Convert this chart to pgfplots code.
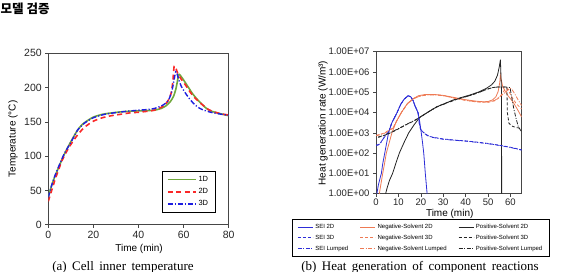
\documentclass[border=0pt]{standalone}
\usepackage{fontspec}
\setmainfont{Liberation Sans}
\newfontfamily\capfont{Liberation Serif}
\newfontfamily\krfont{Noto Sans CJK KR}
\usepackage{pgfplots}
\pgfplotsset{compat=1.18}

\definecolor{tgreen}{RGB}{112,168,60}
\definecolor{tred}{RGB}{250,40,40}
\definecolor{tblue}{RGB}{30,30,225}
\definecolor{seiblue}{RGB}{45,45,215}
\definecolor{negorange}{RGB}{238,122,84}
\definecolor{posblack}{RGB}{35,35,35}
\definecolor{frame}{RGB}{70,70,70}

\pgfplotsset{
  /pgf/number format/assume math mode=true,
  panel/.style={
    scale only axis,
    axis line style={frame, line width=0.8pt},
    tick align=outside,
    tick pos=left,
    major tick length=3pt,
    tick style={frame, line width=0.6pt},
  },
  % short straight legend samples of a given length
  seglegend/.style={legend image code/.code={\draw[##1] (0pt,0pt) -- (#1,0pt);}},
}

\begin{document}
\begin{tikzpicture}
\useasboundingbox (0,0) rectangle (565pt,272pt);

% section heading
\node[anchor=west, inner sep=0pt] at (0.5pt,263pt)
  {\krfont\bfseries\fontsize{12.5}{14}\selectfont 모델 검증};

% ---------- (a) cell inner temperature ----------
\begin{axis}[panel,
  at={(48.3pt,47.3pt)}, anchor=south west,
  width=180.4pt, height=171.4pt,
  xmin=0, xmax=80, ymin=0, ymax=250,
  xtick={0,20,40,60,80}, ytick={0,50,100,150,200,250},
  ticklabel style={font=\fontsize{10.5}{12}\selectfont, text=black!85},
  xlabel={Time (min)}, ylabel={Temperature (\textdegree C)},
  label style={font=\fontsize{10.5}{12}\selectfont, text=black!85},
  every axis x label/.style={at={(axis description cs:0.503,-0.142)}, anchor=center},
  every axis y label/.style={at={(axis description cs:-0.196,0.5)}, rotate=90, anchor=center},
  legend style={at={(axis description cs:0.629,0.07)}, anchor=south west,
    fill=white, font=\fontsize{7.5}{9}\selectfont,
    inner xsep=5pt, inner ysep=3pt, row sep=1.6pt,
    /tikz/every even column/.append style={column sep=3pt}},
  legend cell align=left,
  every axis plot post/.append style={seglegend=28pt},
]
\addplot[tgreen, line width=1.6pt, smooth, tension=0.4] coordinates {
 (0,40) (1,52) (2,62) (3,71) (4,79) (5,87) (7,102) (9,115) (11,127) (13,138)
 (15,146) (17,151) (20,157) (24,161) (28,163) (32,164.5) (36,165.5) (40,166)
 (44,166.5) (47,167) (50,169.5) (52,173) (54,179) (55.5,187) (56.5,197)
 (57.2,208) (57.8,219) (58.5,218) (60,211) (62,201) (64,191) (66,183) (68,176)
 (70,170) (72,166) (75,163) (78,160.5) (80,159)};
\addlegendentry{1D}
\addplot[tred, line width=1.6pt, dash pattern=on 5pt off 3.5pt, smooth, tension=0.4] coordinates {
 (0,34) (1,45) (2,55) (3,66) (4,75) (5,84) (6,93) (8,106) (10,117) (13,131)
 (16,142) (20,151) (24,156) (28,159) (32,161) (36,163) (40,164) (44,165.5)
 (47,167) (50,171) (52,176) (53.5,183) (54.5,192) (55.2,208) (55.8,231)
 (56.5,229) (57.5,220) (59,212) (61,203) (63,193) (65,185) (68,176) (71,168)
 (74,164) (77,161.5) (80,160)};
\addlegendentry{2D}
\addplot[tblue, line width=1.4pt, dash pattern=on 5pt off 2pt on 1.2pt off 2pt, smooth, tension=0.4] coordinates {
 (0,40) (2,63) (4,80) (7,103) (10,120) (13,138) (16,148) (20,156) (25,161)
 (30,163.5) (35,165.5) (40,167) (44,168) (47,169.5) (50,173) (52,177)
 (53.5,183) (54.8,195) (55.7,210) (56.5,223) (57.2,219) (58,210) (59.1,201)
 (61,191) (63,182) (65,175) (67,170) (69,167) (72,164) (75,162) (78,160.5)
 (80,159.5)};
\addlegendentry{3D}
\end{axis}

% ---------- (b) heat generation of component reactions ----------
\begin{axis}[panel,
  at={(376pt,78.3pt)}, anchor=south west,
  width=145.7pt, height=142pt,
  ymode=log, xmin=0, xmax=65, ymin=1, ymax=1e7,
  xtick={0,10,20,30,40,50,60},
  ytick={1,10,100,1000,10000,100000,1000000,10000000},
  yticklabels={1.00E+00,1.00E+01,1.00E+02,1.00E+03,1.00E+04,1.00E+05,1.00E+06,1.00E+07},
  yminorticks=false,
  ticklabel style={font=\fontsize{9.5}{11}\selectfont, text=black!85},
  xticklabel style={yshift=1pt},
  xlabel={Time (min)}, ylabel={Heat generation rate (W/m³)},
  label style={font=\fontsize{9.5}{11}\selectfont, text=black!85},
  every axis x label/.style={at={(axis description cs:0.506,-0.143)}, anchor=center},
  every axis y label/.style={at={(axis description cs:-0.364,0.498)}, rotate=90, anchor=center},
  legend columns=3,
  legend style={at={(axis description cs:-0.5745,-0.4437)}, anchor=south west,
    fill=white, font=\fontsize{6}{7}\selectfont,
    inner xsep=5pt, inner ysep=3pt, row sep=0.9pt,
    /tikz/every even column/.append style={column sep=9.5pt}},
  legend cell align=left,
  every axis plot/.append style={line width=0.8pt},
  every axis plot post/.append style={seglegend=15pt},
]
% row 1 of the legend: 2D
\addplot[seiblue] coordinates {
 (0.4,1) (1,2.5) (2,7) (2.4,10) (3,30) (3.9,100) (4.7,300) (5.6,1000) (7,3000)
 (9.4,1e4) (11,2.5e4) (12.5,4.5e4) (14.3,6.8e4) (15.5,6e4) (16.5,4e4)
 (17.5,2e4) (18.75,1e4) (19.6,3e3) (20.2,1e3) (20.8,3e2) (21.3,1e2) (22,1e1)
 (22.8,1)};
\addlegendentry{SEI 2D}
\addplot[negorange] coordinates {
 (1.5,1) (2.2,3) (3,10) (3.8,30) (4.6,100) (5.8,300) (7.1,1000) (9,3500)
 (11.3,1e4) (14,2.8e4) (16.8,5e4) (19,6.8e4) (22,7.8e4) (26,7.8e4) (30,7e4)
 (35,5.5e4) (40,4.3e4) (45,3.6e4) (48,3.4e4) (50,3.5e4) (52,4.2e4) (53.5,6e4)
 (54.5,1.1e5) (55.2,3e5) (55.5,7e5) (55.9,4e5) (56.5,2e5) (57.5,1.2e5)
 (59,6.5e4) (61,3.5e4) (63,1.5e4) (65,6e3)};
\addlegendentry{Negative-Solvent 2D}
\addplot[posblack] coordinates {
 (4.3,1) (5,2) (6,4.5) (7.4,10) (9,35) (10.4,100) (12.5,330) (14.6,1000)
 (17,2500) (19.6,6e3) (23.5,1.1e4) (27,1.9e4) (30,2.6e4) (34.5,4.2e4)
 (38,5.5e4) (42,7.4e4) (46,1.05e5) (49.4,1.6e5) (51.5,2.3e5) (53,3.5e5)
 (54.2,7e5) (55,1.8e6) (55.5,4e6) (56,1e5) (56.05,1)};
\addlegendentry{Positive-Solvent 2D}
% row 2 of the legend: 3D
\addplot[seiblue, dash pattern=on 3pt off 2pt] coordinates {
 (0,250) (1,260) (2,320) (3,480) (4.5,800) (5.6,1100) (7,3000) (9.4,1e4)
 (11,2.5e4) (12.5,4.5e4) (14.3,6.7e4) (15.5,6e4) (16.5,4e4) (17.5,2e4)
 (18.75,1e4) (19.3,3e3) (19.8,1.6e3) (21,1.1e3) (23,750) (25,620) (30,500)
 (35,440) (40,400) (45,350) (50,300) (55,245) (60,195) (65,145)};
\addlegendentry{SEI 3D}
\addplot[negorange, dash pattern=on 3pt off 2pt] coordinates {
 (0,750) (2,850) (4,1000) (5.5,1300) (7.5,1700) (9,3500) (11.3,1e4) (14,2.7e4)
 (17,5e4) (20,6.7e4) (23,7.5e4) (27,7.5e4) (31,6.6e4) (35,5.2e4) (40,4e4)
 (45,3.3e4) (50,3.2e4) (53,3.8e4) (55,5.5e4) (56.5,9e4) (57.5,1.4e5)
 (58.3,1.6e5) (59.2,1.2e5) (60.5,6e4) (62.5,2.8e4) (65,1.5e4)};
\addlegendentry{Negative-Solvent 3D}
\addplot[posblack, dash pattern=on 3pt off 2pt] coordinates {
 (1,600) (3,700) (5,850) (8,1200) (11,1800) (14,2700) (17,3900) (19.6,5800)
 (23.5,1.1e4) (27,1.9e4) (30,2.6e4) (34.5,4e4) (38,5.3e4) (42,7e4) (46,1e5)
 (49.4,1.4e5) (52,1.7e5) (54,1.8e5) (56,1.8e5) (58.4,1.8e5) (58.6,1e4)
 (59.3,3e3) (60.5,2.2e3) (62.5,1.8e3) (65,1.7e3)};
\addlegendentry{Positive-Solvent 3D}
% row 3 of the legend: lumped
\addplot[seiblue, dash pattern=on 4pt off 1.5pt on 1pt off 1.5pt] coordinates {
 (0,240) (1,250) (2,310) (3,470) (4.5,780) (5.6,1100) (7,3000) (9.4,1e4)
 (11,2.5e4) (12.5,4.5e4) (14.3,6.6e4) (15.5,5.9e4) (16.5,4e4) (17.5,2e4)
 (18.75,1e4) (19.3,3e3) (19.9,1.5e3) (21,1.05e3) (23,720) (25,600) (30,480)
 (35,430) (40,390) (45,340) (50,290) (55,240) (60,190) (65,140)};
\addlegendentry{SEI Lumped}
\addplot[negorange, dash pattern=on 4pt off 1.5pt on 1pt off 1.5pt] coordinates {
 (0,720) (2,820) (4,980) (5.5,1250) (7.5,1650) (9,3400) (11.3,1e4) (14,2.7e4)
 (17,5e4) (20,6.6e4) (23,7.4e4) (27,7.4e4) (31,6.5e4) (35,5.1e4) (40,4e4)
 (45,3.4e4) (50,3.3e4) (53,4e4) (55,5.8e4) (57,8.5e4) (58.5,1.2e5)
 (59.8,1.6e5) (60.8,1.3e5) (62,8e4) (63.5,4e4) (65,2.2e4)};
\addlegendentry{Negative-Solvent Lumped}
\addplot[posblack, dash pattern=on 4pt off 1.5pt on 1pt off 1.5pt] coordinates {
 (1,620) (3,720) (5,870) (8,1250) (11,1850) (14,2750) (17,4000) (19.6,5800)
 (23.5,1.1e4) (27,1.85e4) (30,2.5e4) (34.5,3.9e4) (38,5.2e4) (42,6.9e4)
 (46,9.8e4) (49.4,1.4e5) (52,1.7e5) (54,1.8e5) (56,1.8e5) (58,1.8e5)
 (59.8,1.7e5) (60.5,6e4) (61.5,1.5e4) (62.5,5e3) (63.5,2e3) (65,1.1e3)};
\addlegendentry{Positive-Solvent Lumped}
\end{axis}

% panel captions
\node[anchor=base, inner sep=0pt] at (123pt,1.5pt)
  {\capfont\fontsize{13}{15}\selectfont\spaceskip=0.42em (a)\ Cell inner temperature};
\node[anchor=base, inner sep=0pt] at (420pt,1.5pt)
  {\capfont\fontsize{13}{15}\selectfont\spaceskip=0.42em (b)\ Heat generation of component reactions};
\end{tikzpicture}
\end{document}
